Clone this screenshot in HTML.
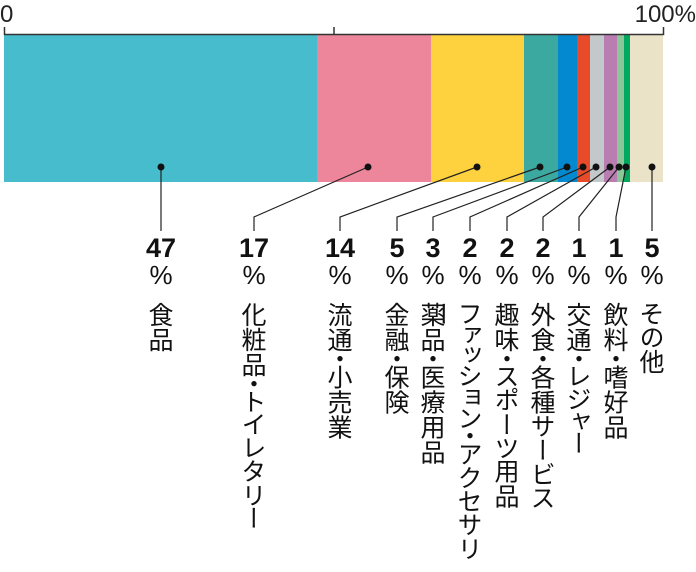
<!DOCTYPE html>
<html><head><meta charset="utf-8"><style>
body{margin:0;width:696px;height:572px;background:#fff;position:relative;overflow:hidden;font-family:"Liberation Sans","Noto Sans CJK JP",sans-serif}
.n{position:absolute;width:60px;text-align:center;font-weight:bold;font-size:27px;line-height:27px;color:#111}
.p{position:absolute;width:60px;text-align:center;font-size:26px;line-height:26px;color:#111}
.v{position:absolute;top:302px;writing-mode:vertical-rl;text-orientation:upright;font-size:25px;line-height:26px;width:26px;font-feature-settings:"vpal";color:#111;font-family:"Noto Sans CJK JP",sans-serif}
</style></head><body>
<svg width="696" height="572" style="position:absolute;left:0;top:0">
<rect x="4" y="35" width="313" height="147" fill="#47bccd"/>
<rect x="317" y="35" width="114" height="147" fill="#ed869b"/>
<rect x="431" y="35" width="93" height="147" fill="#fed23e"/>
<rect x="524" y="35" width="34" height="147" fill="#3ca9a1"/>
<rect x="558" y="35" width="19" height="147" fill="#0289cf"/>
<rect x="577" y="35" width="13" height="147" fill="#e84a2a"/>
<rect x="590" y="35" width="14" height="147" fill="#c3c8cb"/>
<rect x="604" y="35" width="13" height="147" fill="#b97db2"/>
<rect x="617" y="35" width="7" height="147" fill="#8cc79a"/>
<rect x="624" y="35" width="6" height="147" fill="#00a95f"/>
<rect x="630" y="35" width="33" height="147" fill="#ebe3c7"/>
<path d="M4.5 27V34.5H663.5V27M334 27V34" stroke="#333" stroke-width="1.5" fill="none"/>
<text x="0" y="22" font-size="24" font-family="Liberation Sans" fill="#222">0</text>
<text x="696" y="22" font-size="24" font-family="Liberation Sans" fill="#222" text-anchor="end">100%</text>
<g stroke="#222" stroke-width="1.2" fill="none">
<path d="M161 167V231"/>
<path d="M368 167L254 217V231"/>
<path d="M477 167L340 217V231"/>
<path d="M540 167L397 217V231"/>
<path d="M567 167L433 217V231"/>
<path d="M583 167L470 217V231"/>
<path d="M596 167L507 217V231"/>
<path d="M610 167L543 217V231"/>
<path d="M619 167L579 217V231"/>
<path d="M626 167L616 217V231"/>
<path d="M652 167V231"/>
</g>
<g fill="#111">
<circle cx="161" cy="167" r="3.5"/><circle cx="368" cy="167" r="3.5"/><circle cx="477" cy="167" r="3.5"/>
<circle cx="540" cy="167" r="3.5"/><circle cx="567" cy="167" r="3.5"/><circle cx="583" cy="167" r="3.5"/>
<circle cx="596" cy="167" r="3.5"/><circle cx="610" cy="167" r="3.5"/><circle cx="619" cy="167" r="3.5"/>
<circle cx="626" cy="167" r="3.5"/><circle cx="652" cy="167" r="3.5"/>
</g>
</svg>
<div class="n" style="left:131px;top:235px">47</div><div class="p" style="left:131px;top:262px">%</div><div class="v" style="left:148px">食品</div>
<div class="n" style="left:224px;top:235px">17</div><div class="p" style="left:224px;top:262px">%</div><div class="v" style="left:241px">化粧品・トイレタリー</div>
<div class="n" style="left:310px;top:235px">14</div><div class="p" style="left:310px;top:262px">%</div><div class="v" style="left:327px">流通・小売業</div>
<div class="n" style="left:367px;top:235px">5</div><div class="p" style="left:367px;top:262px">%</div><div class="v" style="left:384px">金融・保険</div>
<div class="n" style="left:403px;top:235px">3</div><div class="p" style="left:403px;top:262px">%</div><div class="v" style="left:420px">薬品・医療用品</div>
<div class="n" style="left:440px;top:235px">2</div><div class="p" style="left:440px;top:262px">%</div><div class="v" style="left:457px">ファッション・アクセサリー</div>
<div class="n" style="left:477px;top:235px">2</div><div class="p" style="left:477px;top:262px">%</div><div class="v" style="left:494px">趣味・スポーツ用品</div>
<div class="n" style="left:513px;top:235px">2</div><div class="p" style="left:513px;top:262px">%</div><div class="v" style="left:530px">外食・各種サービス</div>
<div class="n" style="left:549px;top:235px">1</div><div class="p" style="left:549px;top:262px">%</div><div class="v" style="left:566px">交通・レジャー</div>
<div class="n" style="left:586px;top:235px">1</div><div class="p" style="left:586px;top:262px">%</div><div class="v" style="left:603px">飲料・嗜好品</div>
<div class="n" style="left:622px;top:235px">5</div><div class="p" style="left:622px;top:262px">%</div><div class="v" style="left:639px">その他</div>
</body></html>
